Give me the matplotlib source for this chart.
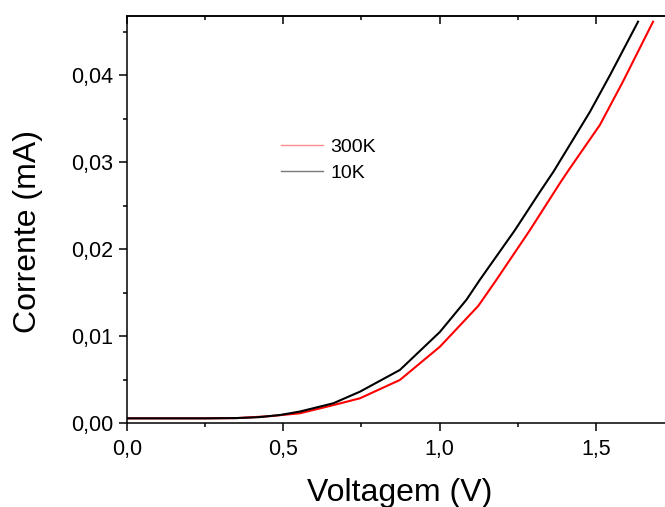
import matplotlib
matplotlib.use("Agg")
import matplotlib.pyplot as plt
from matplotlib.ticker import FuncFormatter, MultipleLocator, NullFormatter
from matplotlib.lines import Line2D

plt.rcParams['font.family'] = ['Liberation Sans', 'DejaVu Sans']

# I-V curves (voltage in V, current in mA)
v_10k = [0.0, 0.25, 0.35, 0.42, 0.489, 0.553, 0.66, 0.745, 0.873, 1.001, 1.086,
         1.129, 1.241, 1.321, 1.364, 1.42, 1.481, 1.545, 1.635]
i_10k = [0.00057, 0.00057, 0.0006, 0.0007, 0.00095, 0.00135, 0.0023, 0.00363, 0.00613,
         0.0105, 0.0142, 0.0165, 0.0222, 0.0266, 0.0289, 0.0322, 0.0358, 0.0400, 0.04616]

v_300k = [0.0, 0.25, 0.35, 0.45, 0.553, 0.65, 0.745, 0.873, 1.001, 1.124, 1.182,
          1.289, 1.385, 1.411, 1.513, 1.587, 1.683]
i_300k = [0.00057, 0.00057, 0.0006, 0.0008, 0.00115, 0.0020, 0.00287, 0.00498, 0.0088,
          0.0135, 0.0165, 0.0222, 0.0276, 0.0290, 0.0343, 0.0393, 0.04616]

labels = ["300K", "10K"]

fig = plt.figure(figsize=(6.65, 5.07), dpi=100)
ax = fig.add_axes([127 / 665, 83.7 / 507, 547 / 665, 407.6 / 507])

ax.plot(v_300k, i_300k, color="#ff0000", lw=1.5)
ax.plot(v_10k, i_10k, color="#000000", lw=1.5)

ax.set_xlim(0, 1.75)
ax.set_ylim(0, 0.04685)

ax.xaxis.set_major_locator(MultipleLocator(0.5))
ax.xaxis.set_minor_locator(MultipleLocator(0.25))
ax.yaxis.set_major_locator(MultipleLocator(0.01))
ax.yaxis.set_minor_locator(MultipleLocator(0.005))
ax.xaxis.set_major_formatter(FuncFormatter(lambda x, p: f"{x:.1f}".replace(".", ",")))
ax.yaxis.set_major_formatter(FuncFormatter(lambda y, p: f"{y:.2f}".replace(".", ",")))

ax.tick_params(axis="both", which="major", direction="out", length=6, width=1.1,
               labelsize=15.5, top=False, right=False)
ax.tick_params(axis="both", which="minor", direction="out", length=3.2, width=1.1,
               top=False, right=False)
ax.tick_params(axis="x", pad=5)
ax.tick_params(axis="y", pad=4)

# inward ticks along the top edge
top = ax.secondary_xaxis("top")
top.xaxis.set_major_locator(MultipleLocator(0.5))
top.xaxis.set_minor_locator(MultipleLocator(0.25))
top.xaxis.set_major_formatter(NullFormatter())
top.tick_params(which="major", direction="in", length=6, width=1.1)
top.tick_params(which="minor", direction="in", length=3.2, width=1.1)
top.spines["top"].set_linewidth(1.1)

for s in ("left", "bottom", "top"):
    ax.spines[s].set_linewidth(1.1)
ax.spines["right"].set_visible(False)

ax.set_xlabel("Voltagem (V)", fontsize=23)
ax.set_ylabel("Corrente (mA)", fontsize=23)
ax.xaxis.set_label_coords(0.498, -0.135)
ax.yaxis.set_label_coords(-0.1536, 0.47)

handles = [Line2D([], [], color="#ff8c8c", lw=1.0),
           Line2D([], [], color="#7a7a7a", lw=1.0)]
ax.legend(handles, labels, loc="center left", bbox_to_anchor=(281 / 665, 347 / 507),
          bbox_transform=fig.transFigure, frameon=False, fontsize=14,
          handlelength=2.15, handletextpad=0.38, labelspacing=0.42,
          borderpad=0, borderaxespad=0)

fig.savefig("out.png", dpi=100)
